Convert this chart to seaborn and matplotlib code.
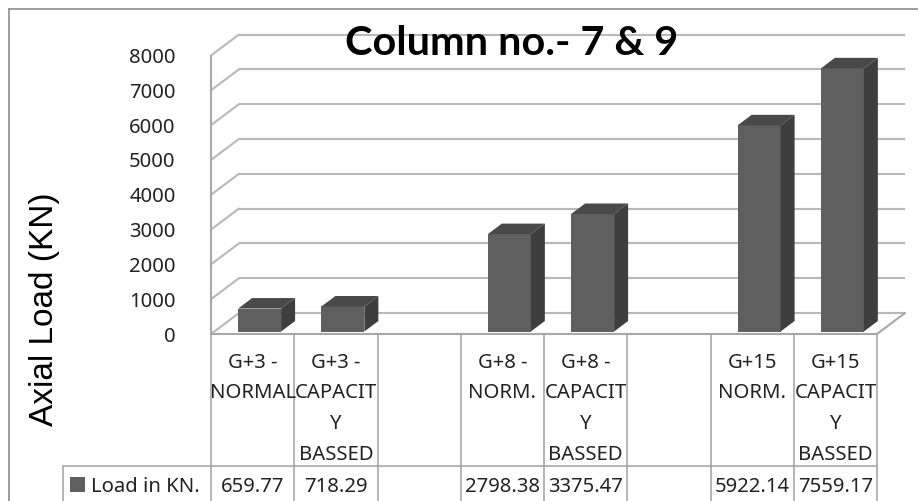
import matplotlib
matplotlib.use("Agg")
import matplotlib.pyplot as plt
import pandas as pd
import seaborn as sns
from matplotlib.patches import Polygon, Rectangle
from matplotlib.lines import Line2D
from matplotlib.transforms import blended_transform_factory

# ---- data -------------------------------------------------------------
categories = [
    "G+3 -\nNORMAL",
    "G+3 -\nCAPACIT\nY\nBASSED",
    "",
    "G+8 -\nNORM.",
    "G+8 -\nCAPACIT\nY\nBASSED",
    " ",
    "G+15\nNORM.",
    "G+15\nCAPACIT\nY\nBASSED",
]
loads = [659.77, 718.29, None, 2798.38, 3375.47, None, 5922.14, 7559.17]
series_name = "Load in KN."
y_ticks = [0, 1000, 2000, 3000, 4000, 5000, 6000, 7000, 8000]
title = "Column no.- 7 & 9"
y_label = "Axial Load (KN)"

# ---- styling ------------------------------------------------------------
W, H = 918, 501
FRONT = "#5f5f5f"
SIDE = "#3e3e3e"
TOP = "#494949"
GRID = "#b8b8b8"
FRAME = "#a8a8a8"
TABLE = "#a0a0a0"
TEXT = "#222222"

sns.set_theme(style="white")
plt.rcParams["font.family"] = ["Noto Sans", "DejaVu Sans"]

fig = plt.figure(figsize=(W / 100, H / 100), dpi=100)
fig.patch.set_facecolor("white")


def fx(px):
    return px / W


def fy(py):
    return 1 - py / H


# plotting box = front plane of the 3-D floor/walls
X0, X1, Y0, Y1 = 211, 877, 334, 55.5
ax = fig.add_axes([fx(X0), fy(Y0), fx(X1 - X0), (Y0 - Y1) / H])
ax.set_facecolor("none")

df = pd.DataFrame({"case": categories, "load": loads}).dropna()
sns.barplot(data=df, x="case", y="load", order=categories, color=FRONT,
            saturation=1, width=0.516, linewidth=0, ax=ax, zorder=4)

ax.set_xlim(-0.5, len(categories) - 0.5)
ax.set_ylim(0, y_ticks[-1])
for s in ax.spines.values():
    s.set_visible(False)
ax.set_xlabel("")
ax.set_ylabel("")
ax.tick_params(axis="x", bottom=False, labelbottom=False)
ax.set_yticks(y_ticks)
ax.set_yticklabels([str(t) for t in y_ticks])
ax.tick_params(axis="y", left=False, pad=19.5, labelsize=14.6, labelcolor=TEXT)
ax.grid(False)

# pixel -> data unit conversion for the oblique depth offsets
cx = (len(categories)) / (X1 - X0)
cy = y_ticks[-1] / (Y0 - Y1)
DX, DY = 28 * cx, 21 * cy          # full floor depth
OX, OY = 7 * cx, 2.5 * cy          # bar inset from front plane
BX, BY = 14 * cx, 10.5 * cy        # bar depth

xl, xr = -0.5, len(categories) - 0.5

# back wall gridlines and left wall diagonals
for v in y_ticks:
    ax.plot([xl + DX, xr + DX], [v + DY, v + DY], color=GRID, lw=1.5,
            clip_on=False, zorder=1, solid_capstyle="butt")
    ax.plot([xl, xl + DX], [v, v + DY], color=GRID, lw=1.5,
            clip_on=False, zorder=1)
# left wall front edge and floor outline
ax.plot([xl, xl], [0, y_ticks[-1]], color=FRAME, lw=1.5, clip_on=False, zorder=2)
ax.plot([xl, xr], [0, 0], color=FRAME, lw=1.5, clip_on=False, zorder=2)
ax.plot([xr, xr + DX], [0, DY], color=FRAME, lw=1.5, clip_on=False, zorder=2)

# give each bar its depth: shift the front face and add top/side faces
for bar in list(ax.patches):
    x0 = bar.get_x() + OX
    w = bar.get_width()
    h = bar.get_height()
    bar.set_x(x0)
    bar.set_y(OY)
    top = [(x0, OY + h), (x0 + w, OY + h), (x0 + w + BX, OY + h + BY), (x0 + BX, OY + h + BY)]
    side = [(x0 + w, OY), (x0 + w + BX, OY + BY), (x0 + w + BX, OY + h + BY), (x0 + w, OY + h)]
    ax.add_patch(Polygon(side, closed=True, facecolor=SIDE, edgecolor="none",
                         clip_on=False, zorder=4))
    ax.add_patch(Polygon(top, closed=True, facecolor=TOP, edgecolor="none",
                         clip_on=False, zorder=4))
    bar.set_clip_on(False)

# ---- data table below the plot -------------------------------------------
tr = blended_transform_factory(ax.transData, fig.transFigure)
for i in range(len(categories) + 1):
    fig.add_artist(Line2D([i - 0.5, i - 0.5], [fy(Y0), fy(H + 2)], transform=tr,
                          color=TABLE, lw=1.1))
fig.add_artist(Line2D([fx(63), fx(X1)], [fy(466), fy(466)], color=TABLE, lw=1.1))
fig.add_artist(Line2D([fx(63), fx(63)], [fy(466), fy(H + 2)], color=TABLE, lw=1.1))

for i, cat in enumerate(categories):
    for k, line in enumerate(cat.split("\n")):
        fig.text(i, fy(368 + 30.5 * k), line, transform=tr, ha="center",
                 va="baseline", fontsize=14.6, color=TEXT)
    if loads[i] is not None:
        fig.text(i, fy(492), f"{loads[i]:.2f}", transform=tr, ha="center",
                 va="baseline", fontsize=14.6, color=TEXT)

fig.add_artist(Rectangle((fx(70), fy(492)), fx(15), 15 / H, facecolor=FRONT,
                         edgecolor="none"))
fig.text(fx(91), fy(492), series_name, ha="left", va="baseline",
         fontsize=14.6, color=TEXT)

# ---- titles and chart border ---------------------------------------------
fig.text(fx(512), fy(55), title, ha="center", va="baseline", fontsize=29.8,
         fontweight="bold", family=["Lato", "DejaVu Sans"], color="black")
fig.text(fx(45), fy(309), y_label, ha="center", va="center", rotation=90,
         fontsize=24, family=["Liberation Sans", "DejaVu Sans"], color="black")

fig.add_artist(Line2D([fx(9), fx(9)], [fy(9), fy(H + 2)], color="#8c8c8c", lw=1.2))
fig.add_artist(Line2D([fx(9), fx(W + 2)], [fy(9), fy(9)], color="#8c8c8c", lw=1.2))

fig.savefig("out.png", dpi=100, facecolor="white")
